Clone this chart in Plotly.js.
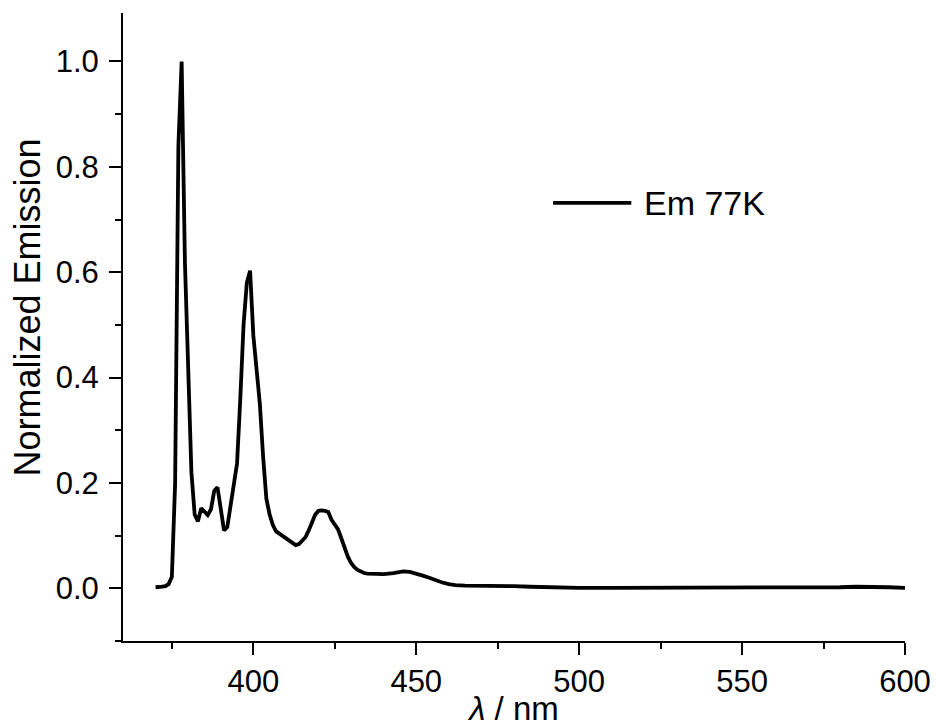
<!DOCTYPE html>
<html>
<head>
<meta charset="utf-8">
<script src="https://cdn.plot.ly/plotly-3.0.1.min.js"></script>
<style>html,body{margin:0;padding:0;background:#fff;}#chart{width:936px;height:727px;}</style>
</head>
<body>
<div id="chart"></div>
<script>
// Wavelength (nm)
const wavelength = [370,371,372,373,374,375,376,377,378,379,380,381,382,383,384,385,386,387,388,389,
  390,391,392,393,394,395,396,397,398,399,400,401,402,403,404,405,406,407,408,409,
  410,411,412,413,414,415,416,417,418,419,420,421,422,423,424,425,426,427,428,429,
  430,431,432,433,434,435,437,440,443,446,448,450,452,454,456,458,460,462,465,470,
  475,480,485,490,495,500,510,520,530,540,550,560,570,580,585,587,590,595,600];
// Normalized emission at 77 K
const emission = [0.002,0.002,0.003,0.004,0.008,0.022,0.20,0.84,1.0,0.62,0.40,0.22,0.14,0.127,0.152,0.146,0.139,0.15,0.185,0.192,
  0.15,0.11,0.116,0.155,0.195,0.237,0.36,0.50,0.58,0.603,0.48,0.42,0.35,0.25,0.17,0.14,0.12,0.108,0.104,0.100,
  0.095,0.092,0.088,0.082,0.084,0.090,0.097,0.110,0.125,0.140,0.147,0.148,0.147,0.145,0.130,0.120,0.112,0.095,0.075,0.060,
  0.048,0.040,0.035,0.031,0.029,0.028,0.027,0.027,0.029,0.032,0.031,0.028,0.024,0.020,0.015,0.011,0.008,0.006,0.005,0.005,
  0.005,0.004,0.003,0.002,0.002,0.001,0.001,0.001,0.001,0.001,0.001,0.001,0.001,0.002,0.003,0.003,0.002,0.002,0.001];
const seriesName = "Em 77K";
const xTitle = "<i>λ</i> / nm";
const yTitle = "Normalized Emission";

const font = "Liberation Sans, Arial, sans-serif";
const trace = {
  x: wavelength, y: emission, type: "scatter", mode: "lines", name: seriesName,
  line: {color: "#000", width: 3.8}, showlegend: false
};
const axisCommon = {
  showline: true, linecolor: "#000", linewidth: 2, mirror: false,
  ticks: "outside", ticklen: 12, tickwidth: 2, tickcolor: "#000",
  showgrid: false, zeroline: false,
  tickfont: {family: font, size: 31, color: "#000"}
};
const layout = {
  width: 936, height: 727,
  margin: {l: 123, r: 31, t: 13, b: 86},
  paper_bgcolor: "#fff", plot_bgcolor: "#fff",
  font: {family: font, color: "#000"},
  xaxis: Object.assign({}, axisCommon, {
    range: [360, 600], dtick: 50, tick0: 400,
    minor: {dtick: 25, ticks: "outside", ticklen: 6, tickwidth: 2, tickcolor: "#000"},
    title: {text: xTitle, font: {family: font, size: 33, color: "#000"}, standoff: 4}
  }),
  yaxis: Object.assign({}, axisCommon, {
    range: [-0.1, 1.092], dtick: 0.2, tick0: 0, tickformat: ".1f",
    ticklabelstandoff: 4,
    minor: {dtick: 0.1, ticks: "outside", ticklen: 6, tickwidth: 2, tickcolor: "#000"}
  }),
  shapes: [{type: "line", xref: "paper", yref: "paper", x0: 0.550, x1: 0.650, y0: 0.6975, y1: 0.6975,
    line: {color: "#000", width: 3.8}}],
  annotations: [
    {xref: "paper", yref: "paper", x: 0.664, y: 0.6975, xanchor: "left", yanchor: "middle",
      text: seriesName, showarrow: false, font: {family: font, size: 34, color: "#000"}},
    {xref: "paper", yref: "paper", x: -0.1215, y: 0.531, xanchor: "center", yanchor: "middle",
      textangle: -90, text: yTitle, showarrow: false, font: {family: font, size: 36, color: "#000"}}
  ]
};
Plotly.newPlot("chart", [trace], layout, {displayModeBar: false, staticPlot: true});
</script>
</body>
</html>
